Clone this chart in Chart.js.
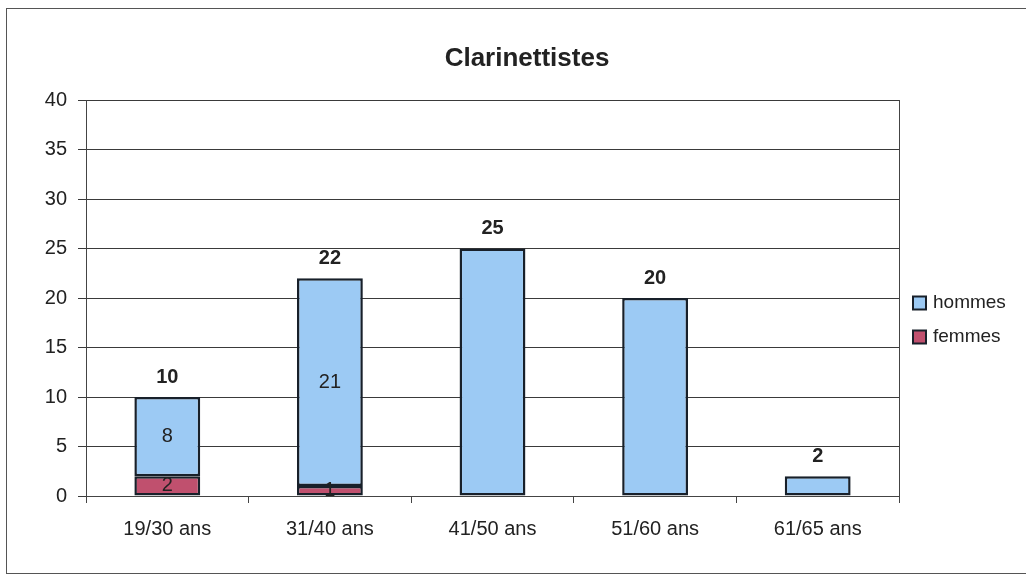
<!DOCTYPE html>
<html>
<head>
<meta charset="utf-8">
<script src="https://cdn.jsdelivr.net/npm/chart.js@4/dist/chart.umd.min.js"></script>
<style>
  html, body { margin: 0; padding: 0; background: #ffffff; }
  #wrap { position: relative; width: 1026px; height: 575px; }
  canvas { display: block; }
</style>
</head>
<body>
<div id="wrap"><canvas id="c" width="1026" height="575"></canvas></div>
<script>
const chartTitle = 'Clarinettistes';
const categories = ['19/30 ans', '31/40 ans', '41/50 ans', '51/60 ans', '61/65 ans'];
const hommes = [8, 21, 25, 20, 2];
const femmes = [2, 1, 0, 0, 0];
const totals = [10, 22, 25, 20, 2];
const seriesNames = ['hommes', 'femmes'];
const yMin = 0, yMax = 40, yStep = 5;

const FONT = '"Liberation Sans", Arial, sans-serif';
const colHommes = '#9ccaf4';
const colFemmes = '#c0506e';
const colEdge = '#18202a';

const decorPlugin = {
  id: 'decor',
  beforeDraw(chart) {
    const ctx = chart.ctx;
    ctx.save();
    ctx.fillStyle = '#ffffff';
    ctx.fillRect(0, 0, chart.width, chart.height);
    ctx.strokeStyle = '#555555';
    ctx.lineWidth = 1;
    ctx.strokeRect(6.5, 8.5, 1100, 565);
    ctx.fillStyle = '#222222';
    ctx.font = 'bold 26px ' + FONT;
    ctx.textAlign = 'center';
    ctx.textBaseline = 'middle';
    ctx.fillText(chartTitle, 527, 59);
    ctx.restore();
  },
  afterDraw(chart) {
    const ctx = chart.ctx;
    const a = chart.chartArea;
    ctx.save();
    ctx.strokeStyle = '#444444';
    ctx.lineWidth = 1;
    ctx.beginPath();
    ctx.moveTo(Math.round(a.right) + 0.5, a.top);
    ctx.lineTo(Math.round(a.right) + 0.5, a.bottom);
    ctx.stroke();
    const items = [
      { text: seriesNames[0], color: colHommes, y: 303 },
      { text: seriesNames[1], color: colFemmes, y: 337 }
    ];
    ctx.font = '19px ' + FONT;
    ctx.textAlign = 'left';
    ctx.textBaseline = 'middle';
    items.forEach(it => {
      ctx.fillStyle = it.color;
      ctx.fillRect(913, it.y - 6.5, 13, 13);
      ctx.strokeStyle = colEdge;
      ctx.lineWidth = 2;
      ctx.strokeRect(913, it.y - 6.5, 13, 13);
      ctx.fillStyle = '#222222';
      ctx.fillText(it.text, 933, it.y);
    });
    ctx.restore();
  },
  afterDatasetsDraw(chart) {
    const ctx = chart.ctx;
    const metaF = chart.getDatasetMeta(0);
    const metaH = chart.getDatasetMeta(1);
    ctx.save();
    ctx.fillStyle = '#222222';
    ctx.textAlign = 'center';
    ctx.textBaseline = 'middle';
    categories.forEach((c, i) => {
      const bh = metaH.data[i];
      const bf = metaF.data[i];
      if (femmes[i] > 0) {
        ctx.font = '20px ' + FONT;
        ctx.fillText(String(hommes[i]), bh.x, (bh.y + bh.base) / 2);
        ctx.fillText(String(femmes[i]), bf.x, (bf.y + bf.base) / 2);
      }
      ctx.font = 'bold 20px ' + FONT;
      const topY = Math.min(bh.y, bf.y);
      ctx.fillText(String(totals[i]), bh.x, topY - 20);
    });
    ctx.restore();
  }
};

new Chart(document.getElementById('c'), {
  type: 'bar',
  data: {
    labels: categories,
    datasets: [
      {
        label: seriesNames[1],
        data: femmes,
        backgroundColor: colFemmes,
        borderColor: colEdge,
        borderWidth: ctx => (ctx.raw > 0 ? 2.5 : 0),
        borderSkipped: false,
        stack: 's',
        barPercentage: 0.405,
        categoryPercentage: 1
      },
      {
        label: seriesNames[0],
        data: hommes,
        backgroundColor: colHommes,
        borderColor: colEdge,
        borderWidth: ctx => (ctx.raw > 0 ? 2.5 : 0),
        borderSkipped: false,
        stack: 's',
        barPercentage: 0.405,
        categoryPercentage: 1
      }
    ]
  },
  options: {
    responsive: false,
    animation: false,
    devicePixelRatio: 1,
    layout: { padding: { left: 0, right: 127, top: 100, bottom: 0 } },
    plugins: {
      legend: { display: false },
      title: { display: false },
      tooltip: { enabled: false }
    },
    scales: {
      x: {
        stacked: true,
        offset: true,
        afterFit: s => { s.height = 79; },
        grid: { display: true, drawOnChartArea: false, drawTicks: true, tickLength: 7, color: '#444444', offset: true },
        border: { display: true, color: '#444444' },
        ticks: { color: '#222222', font: { family: FONT, size: 20 }, padding: 14, maxRotation: 0 }
      },
      y: {
        stacked: true,
        min: yMin,
        max: yMax,
        afterFit: s => { s.width = 86; },
        grid: { color: '#3a3a3a', lineWidth: 1, tickLength: 8, drawTicks: true },
        border: { display: true, color: '#444444' },
        ticks: { stepSize: yStep, color: '#222222', font: { family: FONT, size: 20 }, padding: 11 }
      }
    }
  },
  plugins: [decorPlugin]
});
</script>
</body>
</html>
